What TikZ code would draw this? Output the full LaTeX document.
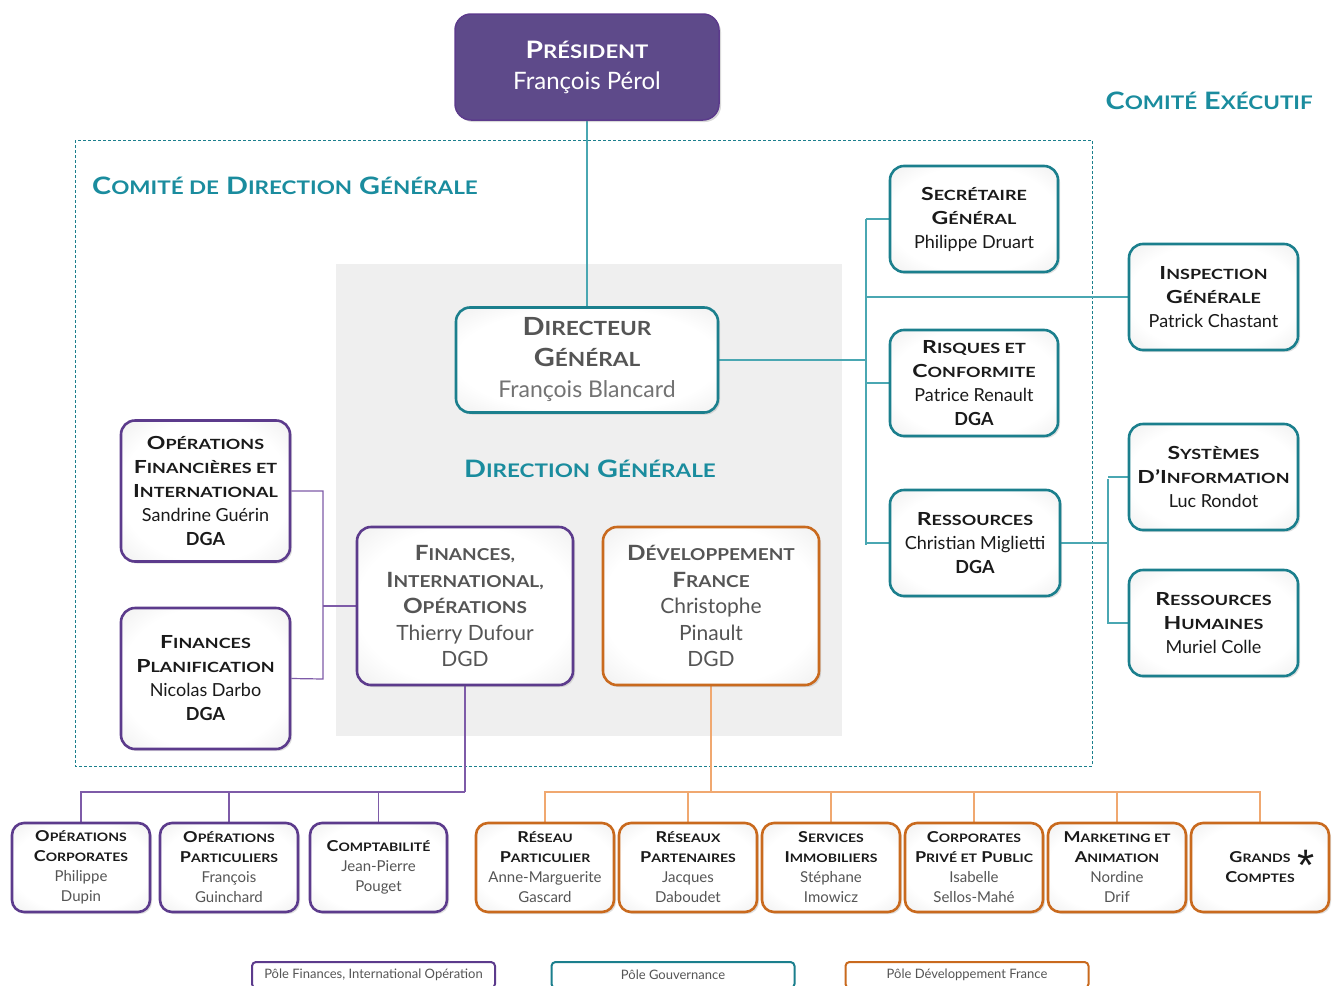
\documentclass[tikz,border=0pt]{standalone}
\usepackage{fontspec}
\setmainfont{Lato}
\newfontfamily\astfont{Liberation Sans}
\usepackage{graphicx}
\usetikzlibrary{shadows}
\definecolor{tealb}{HTML}{1B7F8D}
\definecolor{tealt}{HTML}{1A8C9E}
\definecolor{teall}{HTML}{4AA7B2}
\definecolor{purpb}{HTML}{5C3B8C}
\definecolor{purpf}{HTML}{5E4A8A}
\definecolor{purpl}{HTML}{7E5BA8}
\definecolor{orab}{HTML}{C96A1E}
\definecolor{oral}{HTML}{F0A870}
\definecolor{bgg}{HTML}{EFEFEF}
\definecolor{txg}{HTML}{555555}
\definecolor{txd}{HTML}{1A1A1A}
\newcommand\smc[1]{\scalebox{0.78}{#1}}
\newcommand\fs[2]{\fontsize{#1}{#2}\selectfont}
\def\tsx{1.25}
\newcommand\ttl[1]{\textbf{\scalebox{\tsx}[1]{#1}}}
\pgfdeclareradialshading{glow}{\pgfpoint{0bp}{0bp}}{color(0bp)=(white); color(25bp)=(white); color(50bp)=(black!14); color(70bp)=(black!18)}
\pgfdeclarelayer{background}
\pgfsetlayers{background,main}
\tikzset{
  obox/.style={rounded corners=14pt, line width=2.6pt, align=center, inner sep=0pt,
    shading=glow,
    drop shadow={opacity=0.25, shadow xshift=2pt, shadow yshift=-2pt}},
  tbox/.style={obox, draw=tealb, text=txd, font=\fs{18}{24}\def\tsx{1.28},
    minimum width=168pt, minimum height=106pt},
  pbox/.style={obox, draw=purpb, text=txd, font=\fs{18}{24}\def\tsx{1.28},
    minimum width=169pt, minimum height=141pt},
  cbox/.style={obox, text=txg, font=\fs{21}{26.5}\def\tsx{1.16},
    minimum width=216pt, minimum height=158pt},
  sbox/.style={obox, rounded corners=12pt, text=txg, font=\fs{15}{20}\def\tsx{1.2},
    minimum width=138pt, minimum height=89pt},
  tline/.style={teall, line width=1.2pt},
  pline/.style={purpl, line width=1.2pt},
  oline/.style={oral, line width=1.2pt},
  lbl/.style={text=tealt, font=\fs{24}{28}\def\tsx{1.2}, inner sep=0pt},
  lgd/.style={rounded corners=4pt, line width=2pt, fill=white, text=txg,
    font=\fs{13}{15}, minimum width=243pt, minimum height=26pt, inner sep=0pt}
}
\begin{document}
\begin{tikzpicture}[x=1pt,y=-1pt]
\useasboundingbox (0,0) rectangle (1335,985);

% President
\node[rounded corners=16pt, fill=purpf, draw=purpb, line width=1.5pt, text=white,
  align=center, font=\fs{24}{31}\def\tsx{1.18}, minimum width=264pt, minimum height=106pt,
  drop shadow={opacity=0.3, shadow xshift=2pt, shadow yshift=-2pt}]
  (pres) at (587,67) {\ttl{P\smc{RÉSIDENT}}\\François Pérol};

% labels
\node[lbl, anchor=east] (ce) at (1313,101) {\ttl{C\smc{OMITÉ} E\smc{XÉCUTIF}}};
\node[lbl, anchor=west] (cdg) at (92,186) {\ttl{C\smc{OMITÉ DE} D\smc{IRECTION} G\smc{ÉNÉRALE}}};
\node[lbl] (dgl) at (590,469) {\ttl{D\smc{IRECTION} G\smc{ÉNÉRALE}}};

% Directeur general
\node[obox, draw=tealb, text=txg, font=\fs{25}{31}\def\tsx{1.16}, minimum width=262pt, minimum height=105pt]
  (dg) at (587,360) {\ttl{D\smc{IRECTEUR}}\\\ttl{G\smc{ÉNÉRAL}}\\\textcolor{black!55}{\fs{23}{31}François Blancard}};

% central DGD boxes
\node[cbox, draw=purpb] (fin) at (465,606)
  {\ttl{F\smc{INANCES,}}\\\ttl{I\smc{NTERNATIONAL,}}\\\ttl{O\smc{PÉRATIONS}}\\Thierry Dufour\\DGD};
\node[cbox, draw=orab] (dev) at (711,606)
  {\ttl{D\smc{ÉVELOPPEMENT}}\\\ttl{F\smc{RANCE}}\\Christophe\\Pinault\\DGD};

% left purple boxes
\node[pbox] (ofi) at (205.5,491)
  {\ttl{O\smc{PÉRATIONS}}\\\ttl{F\smc{INANCIÈRES ET}}\\\ttl{I\smc{NTERNATIONAL}}\\Sandrine Guérin\\\textbf{DGA}};
\node[pbox] (fp) at (205.5,678.5)
  {\ttl{F\smc{INANCES}}\\\ttl{P\smc{LANIFICATION}}\\Nicolas Darbo\\\textbf{DGA}};

% right teal boxes
\node[tbox] (sg) at (974,219) {\ttl{S\smc{ECRÉTAIRE}}\\\ttl{G\smc{ÉNÉRAL}}\\Philippe Druart};
\node[tbox] (rc) at (974,383) {\ttl{R\smc{ISQUES ET}}\\\ttl{C\smc{ONFORMITE}}\\Patrice Renault\\\textbf{DGA}};
\node[tbox, minimum width=170pt] (res) at (975,543) {\ttl{R\smc{ESSOURCES}}\\Christian Miglietti\\\textbf{DGA}};
\node[tbox, minimum width=169pt] (ig) at (1213.5,297) {\ttl{I\smc{NSPECTION}}\\\ttl{G\smc{ÉNÉRALE}}\\Patrick Chastant};
\node[tbox, minimum width=169pt] (si) at (1213.5,477) {\ttl{S\smc{YSTÈMES}}\\\ttl{D’I\smc{NFORMATION}}\\Luc Rondot};
\node[tbox, minimum width=169pt] (rh) at (1213.5,623) {\ttl{R\smc{ESSOURCES}}\\\ttl{H\smc{UMAINES}}\\Muriel Colle};

% bottom purple
\node[sbox, draw=purpb] (oc) at (81,867.5) {\textcolor{txd}{\ttl{O\smc{PÉRATIONS}}}\\\textcolor{txd}{\ttl{C\smc{ORPORATES}}}\\Philippe\\Dupin};
\node[sbox, draw=purpb] (op) at (229,867.5) {\textcolor{txd}{\ttl{O\smc{PÉRATIONS}}}\\\textcolor{txd}{\ttl{P\smc{ARTICULIERS}}}\\François\\Guinchard};
\node[sbox, draw=purpb, minimum width=137pt] (cpt) at (378.5,867.5) {\textcolor{txd}{\ttl{C\smc{OMPTABILITÉ}}}\\Jean-Pierre\\Pouget};

% bottom orange
\node[sbox, draw=orab] (rp) at (545,867.5) {\textcolor{txd}{\ttl{R\smc{ÉSEAU}}}\\\textcolor{txd}{\ttl{P\smc{ARTICULIER}}}\\Anne-Marguerite\\Gascard};
\node[sbox, draw=orab] (rpa) at (688,867.5) {\textcolor{txd}{\ttl{R\smc{ÉSEAUX}}}\\\textcolor{txd}{\ttl{P\smc{ARTENAIRES}}}\\Jacques\\Daboudet};
\node[sbox, draw=orab] (si2) at (831,867.5) {\textcolor{txd}{\ttl{S\smc{ERVICES}}}\\\textcolor{txd}{\ttl{I\smc{MMOBILIERS}}}\\Stéphane\\Imowicz};
\node[sbox, draw=orab] (cpp) at (974,867.5) {\textcolor{txd}{\ttl{C\smc{ORPORATES}}}\\\textcolor{txd}{\ttl{P\smc{RIVÉ ET} P\smc{UBLIC}}}\\Isabelle\\Sellos-Mahé};
\node[sbox, draw=orab] (ma) at (1117,867.5) {\textcolor{txd}{\ttl{M\smc{ARKETING ET}}}\\\textcolor{txd}{\ttl{A\smc{NIMATION}}}\\Nordine\\Drif};
\node[sbox, draw=orab] (gc) at (1260,867.5) {\textcolor{txd}{\ttl{G\smc{RANDS}}}\\\textcolor{txd}{\ttl{C\smc{OMPTES}}}};
\node[text=txd, font=\astfont\fs{44}{44}] (ast) at (1306,865) {*};

% legend
\node[lgd, draw=purpb] (l1) at (373.5,975) {Pôle Finances, International Opération};
\node[lgd, draw=tealb] (l2) at (673,975) {Pôle Gouvernance};
\node[lgd, draw=orab] (l3) at (967,975) {Pôle Développement France};

% trunk coordinates
\coordinate (tr1) at (866,219);
\coordinate (tr2) at (866,545);
\coordinate (tr3) at (1108,479);
\coordinate (tr4) at (1108,624);
\coordinate (tl1) at (323,491);
\coordinate (tl2) at (323,679);
\coordinate (bp) at (465,792);
\coordinate (bo) at (711,792);

\begin{pgfonlayer}{background}
\fill[bgg] (336,264) rectangle (842,736);
\draw[tealb, line width=0.9pt, dash pattern=on 3pt off 2pt] (75,140) rectangle (1092,766);
% top
\draw[tline] (pres.south) -- (dg.north);
% right trunk
\draw[tline] (tr1) -- (tr2);
\draw[tline] (dg.east) -- (dg.east -| tr1);
\draw[tline] (sg.west) -- (sg.west -| tr1);
\draw[tline] (rc.west) -- (rc.west -| tr1);
\draw[tline] (res.west) -- (res.west -| tr1);
\draw[tline] (ig.west) -- (ig.west -| tr1);
% ressources sub-trunk
\draw[tline] (tr3) -- (tr4);
\draw[tline] (res.east) -- (res.east -| tr3);
\draw[tline] (si.west) -- (si.west -| tr3);
\draw[tline] (rh.west) -- (rh.west -| tr3);
% left
\draw[pline] (ofi.east) -- (tl1) -- (tl2) -- (fp.east);
\draw[pline] (fin.west) -- (fin.west -| tl1);
% bottom purple
\draw[pline] (fin.south) -- (bp);
\draw[pline] (oc.north) -- (oc.north |- bp) -- (bp);
\draw[pline] (op.north) -- (op.north |- bp);
\draw[pline] (cpt.north) -- (cpt.north |- bp);
% bottom orange
\draw[oline] (dev.south) -- (bo);
\draw[oline] (rp.north) -- (rp.north |- bo) -- (gc.north |- bo) -- (gc.north);
\draw[oline] (rpa.north) -- (rpa.north |- bo);
\draw[oline] (si2.north) -- (si2.north |- bo);
\draw[oline] (cpp.north) -- (cpp.north |- bo);
\draw[oline] (ma.north) -- (ma.north |- bo);
\end{pgfonlayer}
\end{tikzpicture}
\end{document}
